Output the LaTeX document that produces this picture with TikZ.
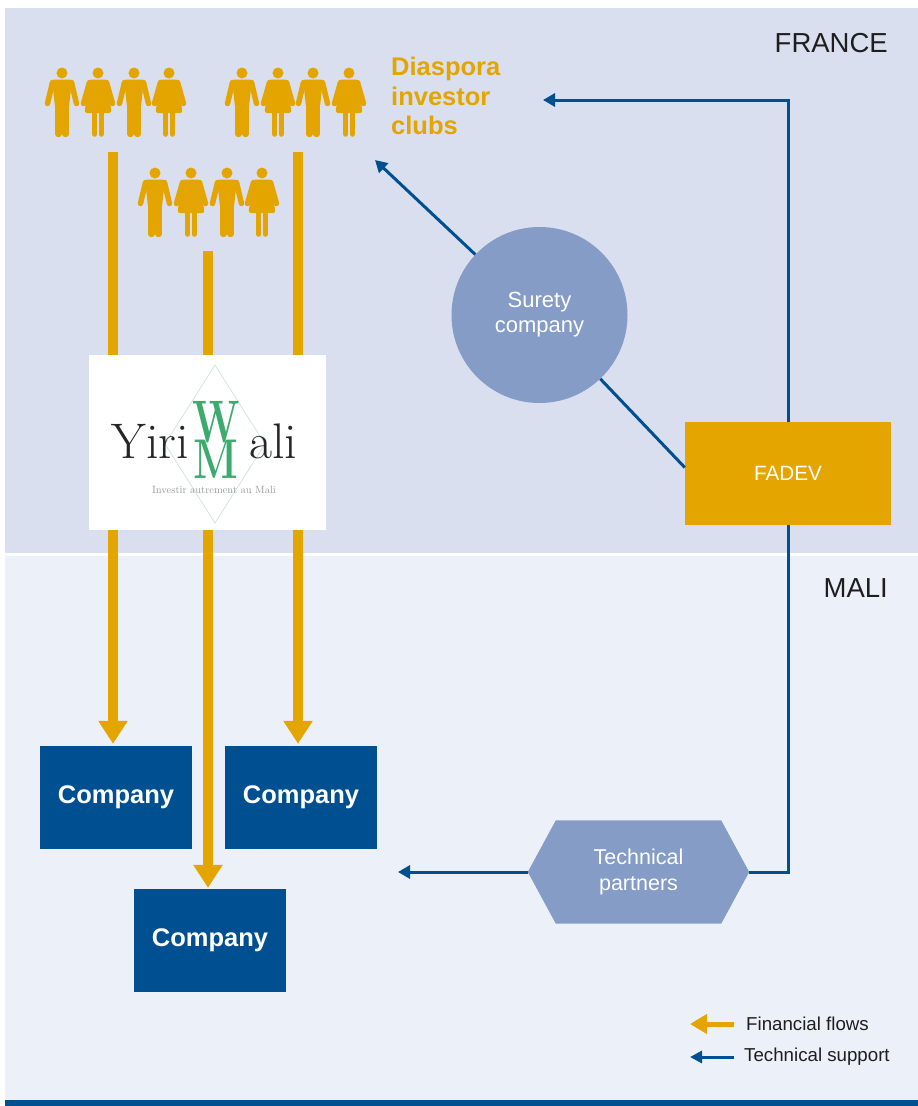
\documentclass[tikz,border=0pt]{standalone}
\usepackage{fontspec}
\setmainfont{Liberation Sans}
\newfontfamily\logofont{Latin Modern Roman}
\usetikzlibrary{arrows.meta,calc}
\pgfdeclarelayer{bg}
\pgfdeclarelayer{mid}
\pgfsetlayers{bg,mid,main}
\definecolor{ycol}{HTML}{E5A500}
\definecolor{dblue}{HTML}{004F91}
\definecolor{lblue}{HTML}{849CC6}
\definecolor{frbg}{HTML}{D9DFEF}
\definecolor{mlbg}{HTML}{ECF0F9}
\definecolor{lgreen}{HTML}{3DAA6E}
\definecolor{diam}{HTML}{CFE3D7}
\definecolor{txtdark}{HTML}{1E1E1E}
\tikzset{
 man/.pic={
  \fill[ycol] (0,0) circle (5.5);
  \fill[ycol, rounded corners=2.5] (-10,6.5) -- (10,6.5) -- (7,34) -- (-7,34) -- cycle;
  \draw[ycol, line width=5.5, line cap=round] (-9.5,9.5) -- (-14.5,30.5);
  \draw[ycol, line width=5.5, line cap=round] (9.5,9.5) -- (14.5,30.5);
  \draw[ycol, line width=6.4, line cap=round] (-3.6,32) -- (-3.6,61);
  \draw[ycol, line width=6.4, line cap=round] (3.6,32) -- (3.6,61);
 },
 woman/.pic={
  \fill[ycol] (0,0) circle (5.5);
  \fill[ycol, rounded corners=2.5] (-9,6.5) -- (9,6.5) -- (13.5,40) -- (-13.5,40) -- cycle;
  \draw[ycol, line width=5.5, line cap=round] (-8.5,9.5) -- (-14.5,30.5);
  \draw[ycol, line width=5.5, line cap=round] (8.5,9.5) -- (14.5,30.5);
  \draw[ycol, line width=5.6, line cap=round] (-3.4,38) -- (-3.4,61);
  \draw[ycol, line width=5.6, line cap=round] (3.4,38) -- (3.4,61);
 },
 compbox/.style={fill=dblue, minimum width=152pt, minimum height=103pt, inner sep=0pt,
   text=white, font=\bfseries\fontsize{25.5}{28}\selectfont},
 fadevbox/.style={fill=ycol, minimum width=206pt, minimum height=103pt, inner sep=0pt,
   text=white, font=\fontsize{20.7}{24}\selectfont},
 surbox/.style={circle, fill=lblue, minimum size=176pt, inner sep=0pt, text=white,
   align=center, font=\fontsize{22}{25}\selectfont},
 tpbox/.style={minimum width=221pt, minimum height=103pt, inner sep=0pt, text=white,
   align=center, font=\fontsize{21.5}{26}\selectfont},
 yflow/.style={draw=ycol, line width=10pt, -{Triangle[length=23pt,width=28pt]}},
 tflow/.style={draw=dblue, line width=3pt, -{Triangle[length=12pt,width=13pt]}},
 tline/.style={draw=dblue, line width=3pt},
 regionlbl/.style={anchor=east, inner sep=0pt, text=txtdark, font=\fontsize{27.5}{30}\selectfont},
 legendlbl/.style={anchor=west, inner sep=0pt, text=txtdark, font=\fontsize{18.7}{22}\selectfont},
}
\begin{document}
\begin{tikzpicture}[x=1pt,y=-1pt]
\useasboundingbox (0,0) rectangle (918,1106);
\begin{pgfonlayer}{bg}
\fill[frbg] (5,8) rectangle (918,552.5);
\fill[mlbg] (5,556) rectangle (918,1099.5);
\fill[dblue] (5,1099.5) rectangle (918,1106);
\end{pgfonlayer}

% region labels
\node[regionlbl] (france) at (888,43) {FRANCE};
\node[regionlbl] (mali) at (888,588) {MALI};

% people
\pic at (62,73) {man};
\pic at (98,73) {woman};
\pic at (134,73) {man};
\pic at (169,73) {woman};
\pic at (242,73) {man};
\pic at (278,73) {woman};
\pic at (313,73) {man};
\pic at (349,73) {woman};
\pic at (155,173) {man};
\pic at (191,173) {woman};
\pic at (227,173) {man};
\pic at (262,173) {woman};

\node[anchor=north west, inner sep=0pt, align=left, text=ycol,
  font=\bfseries\fontsize{25.5}{29.5}\selectfont] (diaspora) at (391,57) {Diaspora\\investor\\clubs};

% companies
\node[compbox] (c1) at (116,797.5) {Company};
\node[compbox] (c2) at (301,797.5) {Company};
\node[compbox] (c3) at (210,940.5) {Company};

% financial flows
\coordinate (yl) at (113,152);
\coordinate (ym) at (208,251);
\coordinate (yr) at (298,152);
\draw[yflow, shorten >=2pt] (yl) -- (yl |- c1.north);
\draw[yflow, shorten >=1pt] (ym) -- (ym |- c3.north);
\draw[yflow, shorten >=2pt] (yr) -- (yr |- c2.north);

% logo
\node[fill=white, minimum width=237pt, minimum height=175pt, inner sep=0pt] (logo) at (207.5,442.5) {};
\draw[diam, line width=0.7pt] (215,365) -- (265,444) -- (215,523) -- (165,444) -- cycle;
\node[anchor=base east, inner sep=0pt, text=black!85, font=\logofont\fontsize{50}{50}\selectfont] (yiri) at (189,458) {Yiri};
\node[anchor=base west, inner sep=0pt, text=black!85, font=\logofont\fontsize{50}{50}\selectfont] (ali) at (249,458) {ali};
\node[anchor=base, inner sep=0pt, text=lgreen, font=\logofont\bfseries\fontsize{60}{60}\selectfont] (lw) at (216,442) {\scalebox{0.68}[1]{W}};
\node[anchor=base, inner sep=0pt, text=lgreen, font=\logofont\bfseries\fontsize{56}{56}\selectfont] (lm) at (216,478) {\scalebox{0.75}[1]{M}};
\node[inner sep=0pt, text=black!40, font=\logofont\fontsize{10.5}{11}\selectfont] (tag) at (214,490) {Investir autrement au Mali};

% FADEV, surety, technical partners
\node[fadevbox] (fadev) at (788,473.5) {FADEV};
\node[surbox] (surety) at (539.5,315) {Surety\\company};
\node[tpbox] (tp) at (638.5,872) {Technical\\partners};
\begin{pgfonlayer}{mid}
\fill[lblue] (tp.west) -- ($(tp.north west)+(28,0)$) -- ($(tp.north east)+(-28,0)$) -- (tp.east)
  -- ($(tp.south east)+(-28,0)$) -- ($(tp.south west)+(28,0)$) -- cycle;
\end{pgfonlayer}

\coordinate (tipD) at (543,100);
\coordinate (tipS) at (375,160);
\coordinate (tipC) at (398,872);
\draw[tflow] (fadev.north) |- (tipD);
\draw[tline] ($(fadev.west)+(0,-6)$) -- (surety);
\draw[tflow] (surety) -- (tipS);
\draw[tline] (fadev.south) |- (tp.east);
\draw[tflow] (tp.west) -- (tipC);

% legend
\coordinate (ly1) at (734,1024);
\coordinate (ly2) at (690,1024);
\coordinate (lb1) at (734,1057);
\coordinate (lb2) at (690,1057);
\draw[draw=ycol, line width=5pt, -{Triangle[length=17pt,width=19pt]}] (ly1) -- (ly2);
\draw[draw=dblue, line width=3pt, -{Triangle[length=12pt,width=12pt]}] (lb1) -- (lb2);
\node[legendlbl] (lg1) at (746,1024) {Financial flows};
\node[legendlbl] (lg2) at (744,1057) {Technical support};
\end{tikzpicture}
\end{document}
